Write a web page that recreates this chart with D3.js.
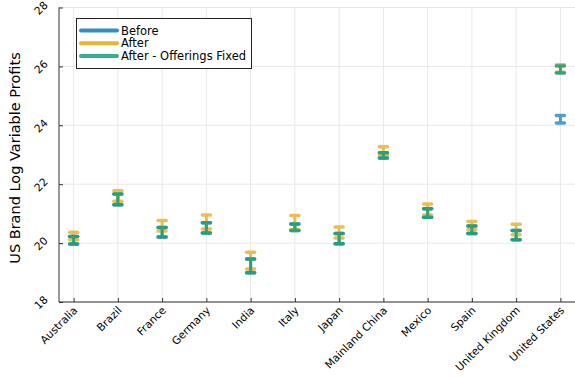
<!DOCTYPE html>
<html lang="en">
<head>
<meta charset="utf-8">
<script src="https://d3js.org/d3.v7.min.js"></script>
<style>
  body { margin: 0; background: #fff; }
  svg, svg text { font-family: "DejaVu Sans", sans-serif; }
</style>
</head>
<body>
<svg id="chart" width="575" height="378"></svg>
<script>
// data
var countries = ["Australia", "Brazil", "France", "Germany", "India", "Italy", "Japan",
                 "Mainland China", "Mexico", "Spain", "United Kingdom", "United States"];
var beforeLo = [19.97, 21.30, 20.21, 20.34, 18.99, 20.43, 19.98, 22.89, 20.88, 20.33, 20.11, 24.08];
var beforeHi = [20.22, 21.67, 20.53, 20.69, 19.46, 20.65, 20.33, 23.07, 21.17, 20.58, 20.43, 24.33];
var afterLo  = [20.11, 21.42, 20.41, 20.48, 19.12, 20.45, 20.17, 22.99, 20.95, 20.45, 20.28, 25.80];
var afterHi  = [20.37, 21.78, 20.77, 20.95, 19.69, 20.94, 20.55, 23.27, 21.33, 20.73, 20.64, 26.06];
var fixedLo  = [19.97, 21.30, 20.21, 20.34, 18.99, 20.43, 19.98, 22.89, 20.88, 20.33, 20.11, 25.78];
var fixedHi  = [20.22, 21.67, 20.53, 20.69, 19.46, 20.65, 20.33, 23.07, 21.17, 20.58, 20.43, 26.01];
var yTicks = [18, 20, 22, 24, 26, 28];

var series = [
  {name: "Before", color: "#338ec1", lo: beforeLo, hi: beforeHi},
  {name: "After", color: "#ebb233", lo: afterLo, hi: afterHi},
  {name: "After - Offerings Fixed", color: "#1a9f7b", lo: fixedLo, hi: fixedHi}
];

var svg = d3.select("#chart");
var plotL = 59, plotR = 575, plotT = 7.5, plotB = 302;

var x = d3.scaleLinear().domain([0.67, 12.33]).range([plotL, plotR]);
var y = d3.scaleLinear().domain([18, 28]).range([plotB, plotT]);

// grid
var grid = svg.append("g");
grid.selectAll(".vg").data(countries).enter().append("line")
  .attr("x1", function(d, i) { return x(i + 1); })
  .attr("x2", function(d, i) { return x(i + 1); })
  .attr("y1", plotT).attr("y2", plotB)
  .attr("stroke", "#e8e8e8").attr("stroke-width", 1);
grid.selectAll(".hg").data(yTicks).enter().append("line")
  .attr("x1", plotL).attr("x2", plotR)
  .attr("y1", function(d) { return y(d); })
  .attr("y2", function(d) { return y(d); })
  .attr("stroke", "#e8e8e8").attr("stroke-width", 1);

// axes
var xAxis = svg.append("g")
  .attr("transform", "translate(0," + plotB + ")")
  .call(d3.axisBottom(x).tickValues(d3.range(1, 13)).tickSize(-4).tickFormat(""))
  .attr("font-family", "DejaVu Sans");
xAxis.select(".domain").attr("stroke", "#333").attr("d", "M" + plotL + ",0H" + plotR);
xAxis.selectAll(".tick line").attr("stroke", "#333");
xAxis.selectAll(".tick").append("text")
  .attr("fill", "#000")
  .attr("font-size", "10.7px")
  .attr("text-anchor", "end")
  .attr("transform", "translate(4,9) rotate(-45)")
  .text(function(d) { return countries[d - 1]; });

var yAxis = svg.append("g")
  .attr("transform", "translate(" + plotL + ",0)")
  .call(d3.axisLeft(y).tickValues(yTicks).tickSize(-4).tickFormat(""))
  .attr("font-family", "DejaVu Sans");
yAxis.select(".domain").attr("stroke", "#333").attr("d", "M0," + plotT + "V" + plotB);
yAxis.selectAll(".tick line").attr("stroke", "#333");
yAxis.selectAll(".tick").append("text")
  .attr("fill", "#000")
  .attr("font-size", "10.7px")
  .attr("text-anchor", "middle")
  .attr("transform", "translate(-18,0) rotate(-45)")
  .attr("dy", "0.35em")
  .text(function(d) { return d; });

svg.append("text")
  .attr("transform", "translate(20,158) rotate(-90)")
  .attr("text-anchor", "middle")
  .attr("font-size", "14.5px")
  .text("US Brand Log Variable Profits");

// error bars
series.forEach(function(s) {
  var g = svg.append("g").attr("opacity", 0.85);
  g.selectAll(".bar").data(countries).enter().append("line")
    .attr("x1", function(d, i) { return x(i + 1); })
    .attr("x2", function(d, i) { return x(i + 1); })
    .attr("y1", function(d, i) { return y(s.lo[i]); })
    .attr("y2", function(d, i) { return y(s.hi[i]); })
    .attr("stroke", s.color).attr("stroke-width", 3);
  [s.lo, s.hi].forEach(function(arr) {
    g.selectAll(".cap").data(countries).enter().append("line")
      .attr("x1", function(d, i) { return x(i + 1) - 4; })
      .attr("x2", function(d, i) { return x(i + 1) + 4; })
      .attr("y1", function(d, i) { return y(arr[i]); })
      .attr("y2", function(d, i) { return y(arr[i]); })
      .attr("stroke", s.color).attr("stroke-width", 3.5)
      .attr("stroke-linecap", "round");
  });
});

// legend
var lg = svg.append("g");
lg.append("rect")
  .attr("x", 76.5).attr("y", 18.5).attr("width", 175).attr("height", 50)
  .attr("fill", "#fff").attr("stroke", "#222").attr("stroke-width", 1);
series.forEach(function(s, i) {
  var yy = 30.5 + i * 12.7;
  lg.append("line")
    .attr("x1", 81).attr("x2", 117).attr("y1", yy).attr("y2", yy)
    .attr("stroke", i === 2 ? "#33b18f" : s.color).attr("stroke-width", 4).attr("stroke-linecap", "round");
  lg.append("text")
    .attr("x", 121).attr("y", yy).attr("dy", "0.35em")
    .attr("font-size", "11.5px")
    .text(s.name);
});
</script>
</body>
</html>
